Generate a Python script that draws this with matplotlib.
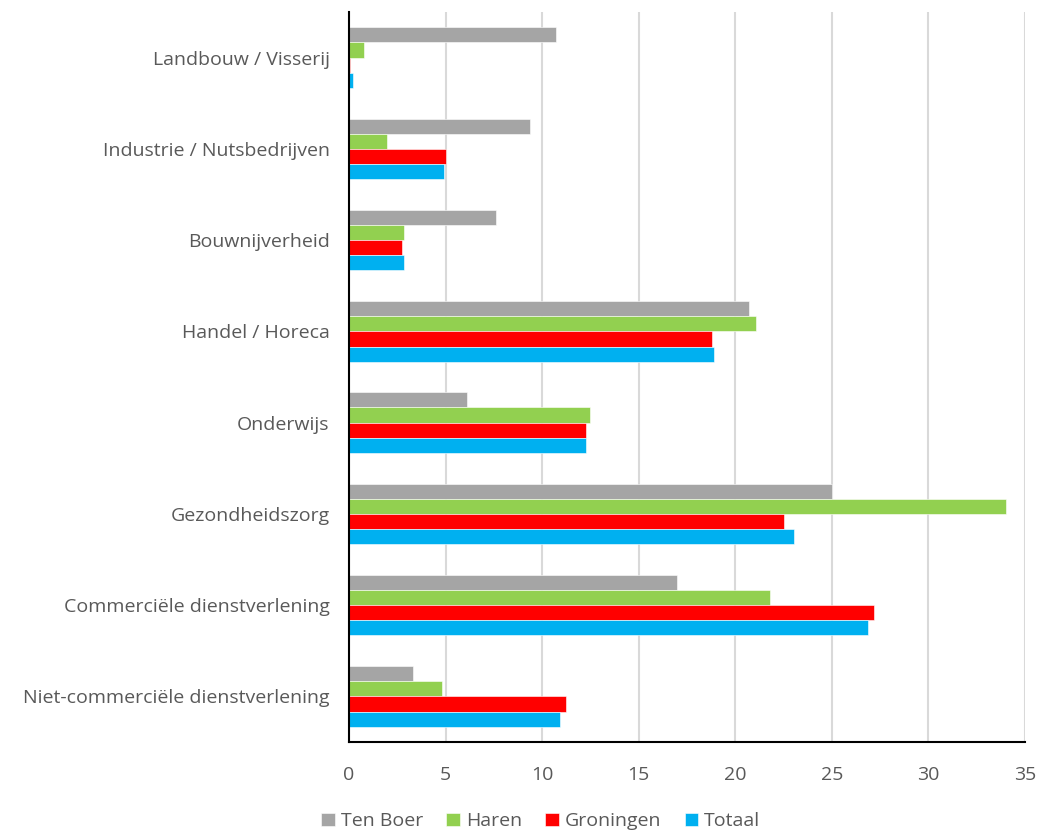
import matplotlib
matplotlib.use("Agg")
import matplotlib.pyplot as plt
import numpy as np

categories = ["Landbouw / Visserij", "Industrie / Nutsbedrijven", "Bouwnijverheid",
              "Handel / Horeca", "Onderwijs", "Gezondheidszorg",
              "Commerciële dienstverlening", "Niet-commerciële dienstverlening"]
series_names = ["Ten Boer", "Haren", "Groningen", "Totaal"]
ten_boer = [10.7, 9.35, 7.6, 20.7, 6.1, 25.0, 17.0, 3.3]
haren = [0.8, 1.95, 2.85, 21.05, 12.5, 34.0, 21.8, 4.8]
groningen = [0.05, 5.0, 2.75, 18.8, 12.25, 22.5, 27.2, 11.25]
totaal = [0.2, 4.9, 2.85, 18.9, 12.25, 23.05, 26.85, 10.9]
colors = ["#A5A5A5", "#92D050", "#FF0000", "#00B0F0"]
xticks = [0, 5, 10, 15, 20, 25, 30, 35]

plt.rcParams['font.family'] = ['Open Sans', 'DejaVu Sans']

fig = plt.figure(figsize=(10.4, 8.33), dpi=100)
ax = fig.add_axes([349/1040, (833-742)/833, (1025-349)/1040, (742-12)/833])

y = np.arange(len(categories))
h = 0.166
data = [ten_boer, haren, groningen, totaal]
for k, (vals, name, c) in enumerate(zip(data, series_names, colors)):
    ax.barh(y + (k - 1.5) * h, vals, height=h, color=c, label=name,
            edgecolor='white', linewidth=0.4, zorder=3)

ax.set_ylim(len(categories) - 0.5, -0.5)
ax.set_xlim(0, 35)
ax.set_xticks(xticks)
ax.set_yticks(y)
ax.set_yticklabels(categories)
ax.grid(axis='x', color='#D9D9D9', linewidth=1.5, zorder=0)
ax.set_axisbelow(True)
for s in ['top', 'right']:
    ax.spines[s].set_visible(False)
for s in ['left', 'bottom']:
    ax.spines[s].set_color('black')
    ax.spines[s].set_linewidth(1.5)
    ax.spines[s].set_zorder(5)
ax.tick_params(axis='both', length=0, labelsize=14, colors='#595959')
ax.tick_params(axis='y', pad=14)
ax.tick_params(axis='x', pad=17)

fig.legend(loc='lower center', ncol=4, frameon=False, fontsize=14,
           bbox_to_anchor=(0.52, -0.018), handlelength=0.7, handleheight=0.7,
           handletextpad=0.3, columnspacing=1.2, labelcolor='#595959')

fig.savefig("out.png", dpi=100)
